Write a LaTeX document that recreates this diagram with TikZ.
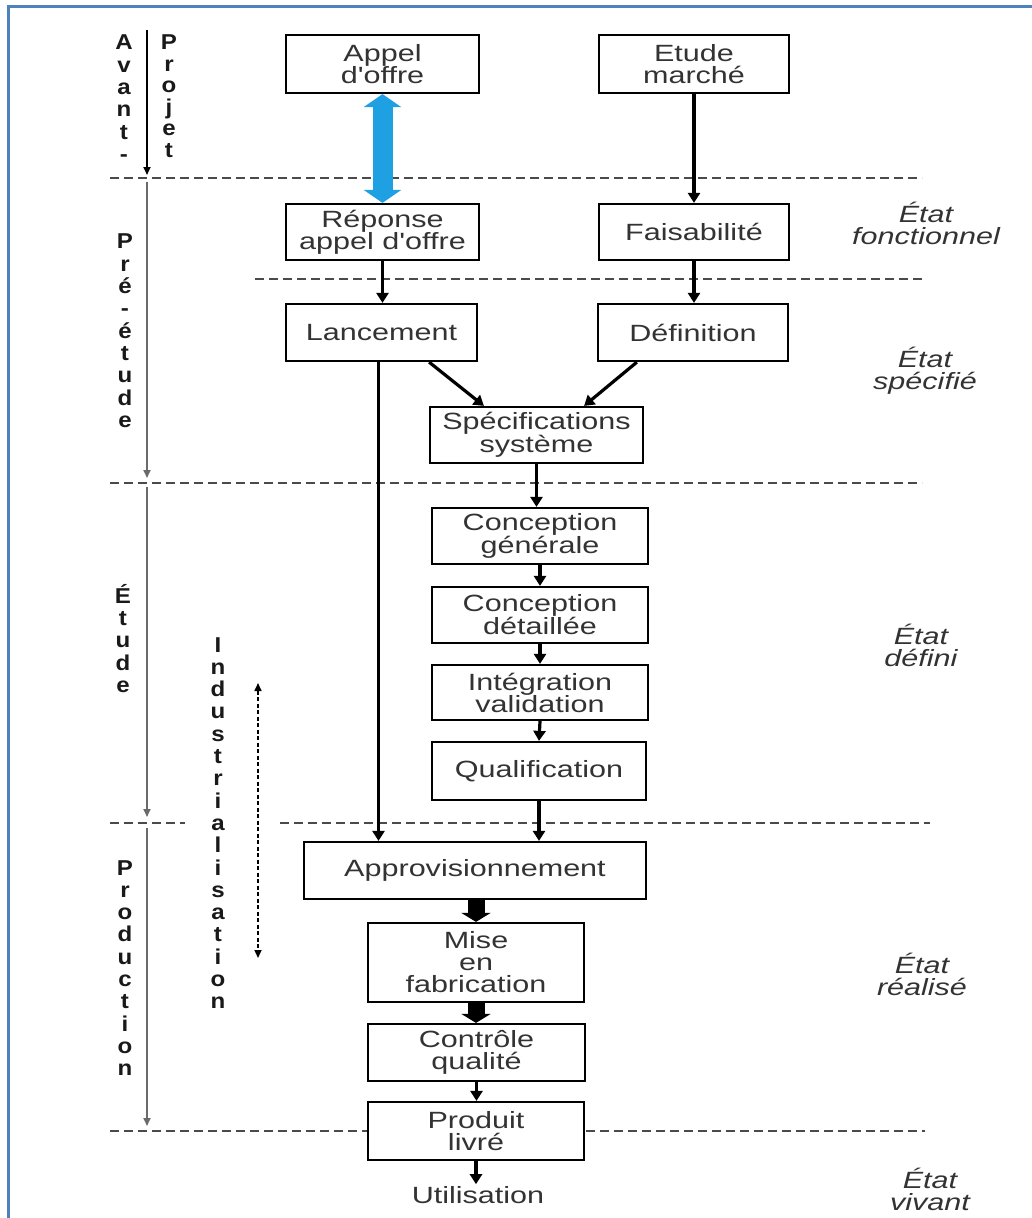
\documentclass[tikz,border=0pt]{standalone}
\usepackage{fontspec}
\usetikzlibrary{arrows.meta}
\newfontfamily\boxfont{Liberation Sans}[FakeStretch=1.3]
\newfontfamily\stackfont{Liberation Sans}[FakeStretch=1.12]
\definecolor{frameblue}{HTML}{4F81BD}
\definecolor{arrowblue}{HTML}{1EA0E2}
\definecolor{txt}{HTML}{333333}
\definecolor{dashgray}{HTML}{4A4A4A}
\definecolor{timegray}{HTML}{6A6A6A}

\begin{document}
\begin{tikzpicture}[x=1pt,y=-1pt,
  stepbox/.style={draw=black, line width=2.2pt, fill=white, inner sep=0pt, align=center,
    text=txt, font=\boxfont\fontsize{23.5}{22}\selectfont},
  flow/.style={line width=3.2pt, -{Triangle[length=10pt,width=12pt]}},
  bigflow/.style={line width=17pt, -{Triangle[length=9pt,width=29pt]}},
  blueflow/.style={arrowblue, line width=20pt,
    {Triangle[length=13pt,width=37pt]}-{Triangle[length=13pt,width=37pt]}},
  phase/.style={line width=1.8pt, timegray, -{Triangle[length=8pt,width=7pt]}},
  indus/.style={line width=1.6pt, black, dash pattern=on 4pt off 2.5pt,
    {Triangle[length=8pt,width=7pt]}-{Triangle[length=8pt,width=7pt]}},
  sep/.style={dashgray, line width=1.6pt, dash pattern=on 9pt off 5pt},
  stack/.style={anchor=north, inner sep=0pt, align=center, text=black!90,
    font=\stackfont\bfseries\fontsize{21.5}{22.3}\selectfont},
  etat/.style={inner sep=0pt, align=center, text=txt,
    font=\boxfont\itshape\fontsize{23.5}{22}\selectfont},
]
\useasboundingbox (0,0) rectangle (1031,1218);

% outer frame
\draw[frameblue, line width=3pt] (8,1230) -- (8,6) -- (1040,6);

% phase separators
\draw[sep] (110,178) -- (922,178);
\draw[sep] (255,279) -- (922,279);
\draw[sep] (110,483) -- (922,483);
\draw[sep] (110,823) -- (185,823);
\draw[sep] (280,823) -- (930,823);
\draw[sep] (110,1131) -- (925,1131);

% process steps
\node[stepbox, minimum width=193pt, minimum height=58pt] (appel) at (382.5,64) {Appel\\d'offre};
\node[stepbox, minimum width=190pt, minimum height=58pt] (etude) at (694,64) {Etude\\marché};
\node[stepbox, minimum width=193pt, minimum height=56pt] (reponse) at (382.5,232) {Réponse\\appel d'offre};
\node[stepbox, minimum width=190pt, minimum height=56pt] (faisab) at (694,232) {Faisabilité};
\node[stepbox, minimum width=191pt, minimum height=57pt] (lancement) at (381.5,332.5) {Lancement};
\node[stepbox, minimum width=190pt, minimum height=57pt] (definition) at (693,332.5) {Définition};
\node[stepbox, minimum width=213pt, minimum height=56pt] (spec) at (536.5,435) {Spécifications\\système};
\node[stepbox, minimum width=216pt, minimum height=56pt] (cg) at (540,536) {Conception\\générale};
\node[stepbox, minimum width=216pt, minimum height=56pt] (cd) at (540,615) {Conception\\détaillée};
\node[stepbox, minimum width=216pt, minimum height=55pt] (iv) at (540,692.5) {Intégration\\validation};
\node[stepbox, minimum width=214pt, minimum height=58pt] (qual) at (539,771) {Qualification};
\node[stepbox, minimum width=342pt, minimum height=57pt] (appro) at (475,870.5) {Approvisionnement};
\node[stepbox, minimum width=216pt, minimum height=79pt] (mise) at (476,962.5) {Mise\\en\\fabrication};
\node[stepbox, minimum width=217pt, minimum height=57pt] (controle) at (476.5,1052.5) {Contrôle\\qualité};
\node[stepbox, minimum width=216pt, minimum height=58pt] (produit) at (476,1131) {Produit\\livré};
\node[inner sep=2pt, text=txt, font=\boxfont\fontsize{23.5}{22}\selectfont] (util) at (478,1195) {Utilisation};

% flow connectors
\draw[blueflow] (appel.south) -- (reponse.north);
\draw[flow] (etude.south) -- (faisab.north);
\draw[flow] (reponse.south) -- (lancement.north -| reponse.south);
\draw[flow] (faisab.south) -- (definition.north -| faisab.south);
\draw[flow] ([xshift=-49pt]lancement.south east) -- ([xshift=55pt]spec.north west);
\draw[flow] ([xshift=40pt]definition.south west) -- ([xshift=-60pt]spec.north east);
\draw[flow] ([xshift=-3pt]lancement.south) -- ([xshift=-3pt]lancement.south |- appro.north);
\draw[flow] (spec.south) -- (spec.south |- cg.north);
\draw[flow] (cg.south) -- (cd.north);
\draw[flow] (cd.south) -- (iv.north);
\draw[flow] (iv.south) -- (qual.north);
\draw[flow] (qual.south) -- (qual.south |- appro.north);
\draw[bigflow] (appro.south -| mise.north) -- (mise.north);
\draw[bigflow] (mise.south) -- (controle.north -| mise.south);
\draw[flow] (controle.south) -- (produit.north -| controle.south);
\draw[flow] (produit.south) -- (util.north -| produit.south);

% project phases (left time line)
\coordinate (p0) at (147,30);
\coordinate (p1) at (147,175);
\coordinate (p2) at (147,182);
\coordinate (p3) at (147,478);
\coordinate (p4) at (147,487);
\coordinate (p5) at (147,817);
\coordinate (p6) at (147,828);
\coordinate (p7) at (147,1126);
\draw[phase, black] (p0) -- (p1);
\draw[phase] (p2) -- (p3);
\draw[phase] (p4) -- (p5);
\draw[phase] (p6) -- (p7);

\coordinate (i0) at (258,683);
\coordinate (i1) at (258,958);
\draw[indus] (i0) -- (i1);

\node[stack] (avant) at (124,35) {A\\v\\a\\n\\t\\-};
\node[stack, font=\stackfont\bfseries\fontsize{21.5}{21.5}\selectfont] (projet) at (169,35) {P\\r\\o\\j\\e\\t};
\node[stack] (preetude) at (125,234) {P\\r\\é\\-\\é\\t\\u\\d\\e};
\node[stack] (etudephase) at (123,584) {É\\t\\u\\d\\e};
\node[stack] (industr) at (218,637) {I\\n\\d\\u\\s\\t\\r\\i\\a\\l\\i\\s\\a\\t\\i\\o\\n};
\node[stack] (production) at (125,860) {P\\r\\o\\d\\u\\c\\t\\i\\o\\n};

% product states
\node[etat] (efonc) at (926,223) {État\\fonctionnel};
\node[etat] (espec) at (925,371) {État\\spécifié};
\node[etat] (edef) at (921,645) {État\\défini};
\node[etat] (ereal) at (922,974) {État\\réalisé};
\node[etat] (eviv) at (930,1189) {État\\vivant};
\end{tikzpicture}
\end{document}
